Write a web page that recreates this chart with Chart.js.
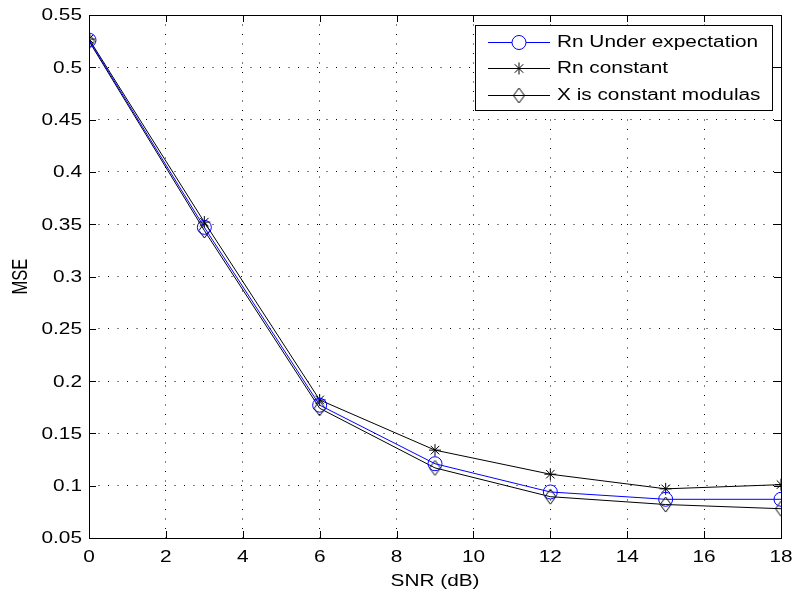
<!DOCTYPE html>
<html>
<head>
<meta charset="utf-8">
<style>
  html, body { margin: 0; padding: 0; background: #fff; }
  #chart { display: block; }
</style>
<script src="https://cdn.jsdelivr.net/npm/chart.js@4/dist/chart.umd.min.js"></script>
</head>
<body>
<canvas id="chart" width="797" height="599"></canvas>
<script>
// ========================
// DATA
// ========================
const snr = [0, 3, 6, 9, 12, 15, 18];
const rnUnderExpectation = [0.526, 0.347, 0.177, 0.121, 0.094, 0.087, 0.087];
const rnConstant = [0.527, 0.352, 0.182, 0.134, 0.111, 0.097, 0.101];
const xConstantModulus = [0.525, 0.344, 0.174, 0.117, 0.0895, 0.082, 0.078];
const seriesNames = ['Rn Under expectation', 'Rn constant', 'X is constant modulas'];
const xTicks = [0, 2, 4, 6, 8, 10, 12, 14, 16, 18];
const yTicks = [0.05, 0.1, 0.15, 0.2, 0.25, 0.3, 0.35, 0.4, 0.45, 0.5, 0.55];

const FONT = 'Liberation Sans, Arial, sans-serif';
const STRETCH = 1.3; // the original figure's text is widened horizontally

// MATLAB style diamond marker (a bit taller than wide)
function diamondMarker(w, h) {
    const c = document.createElement('canvas');
    c.width = w + 2; c.height = h + 2;
    const g = c.getContext('2d');
    g.strokeStyle = '#000';
    g.lineWidth = 1;
    g.beginPath();
    g.moveTo(c.width / 2, 1);
    g.lineTo(c.width - 1, c.height / 2);
    g.lineTo(c.width / 2, c.height - 1);
    g.lineTo(1, c.height / 2);
    g.closePath();
    g.stroke();
    return c;
}
const diamond = diamondMarker(11, 15);

const toPoints = ys => ys.map((y, i) => ({ x: snr[i], y: y }));

// text widened like the reference
function wideText(ctx, text, x, y, align, rotated) {
    ctx.save();
    ctx.translate(x, y);
    if (rotated) {
        ctx.rotate(-Math.PI / 2);
        ctx.scale(1, STRETCH);
    } else {
        ctx.scale(STRETCH, 1);
    }
    ctx.textAlign = align;
    ctx.textBaseline = 'middle';
    ctx.fillText(text, 0, 0);
    ctx.restore();
}

// ========================
// PLUGINS
// ========================
const matlabFrame = {
    id: 'matlabFrame',
    afterDraw(chart) {
        const ctx = chart.ctx;
        const a = chart.chartArea;
        const xs = chart.scales.x, ys = chart.scales.y;
        ctx.save();
        ctx.strokeStyle = '#000';
        ctx.lineWidth = 1;
        // inward ticks
        ctx.beginPath();
        xs.ticks.forEach(t => {
            const px = Math.round(xs.getPixelForValue(t.value)) + 0.5;
            ctx.moveTo(px, a.bottom); ctx.lineTo(px, a.bottom - 7);
            ctx.moveTo(px, a.top); ctx.lineTo(px, a.top + 7);
        });
        ys.ticks.forEach(t => {
            const py = Math.round(ys.getPixelForValue(t.value)) + 0.5;
            ctx.moveTo(a.left, py); ctx.lineTo(a.left + 7, py);
            ctx.moveTo(a.right, py); ctx.lineTo(a.right - 7, py);
        });
        ctx.stroke();
        // box
        ctx.strokeRect(Math.round(a.left) + 0.5, Math.round(a.top) + 0.5,
            Math.round(a.right - a.left), Math.round(a.bottom - a.top));

        // tick labels
        ctx.fillStyle = '#000';
        ctx.font = '16px ' + FONT;
        xs.ticks.forEach(t => {
            wideText(ctx, String(t.value), xs.getPixelForValue(t.value), 557.5, 'center');
        });
        ys.ticks.forEach(t => {
            wideText(ctx, String(Number(t.value.toFixed(2))), a.left - 7, ys.getPixelForValue(t.value) + 1, 'right');
        });

        // axis titles
        wideText(ctx, 'SNR (dB)', (a.left + a.right) / 2, 582, 'center');
        ctx.font = '16.5px ' + FONT;
        wideText(ctx, 'MSE', 21, (a.top + a.bottom) / 2, 'center', true);

        // legend
        ctx.font = '16px ' + FONT;
        const box = { x: 475.5, y: 25.5, w: 297, h: 85 };
        ctx.fillStyle = '#fff';
        ctx.fillRect(box.x, box.y, box.w, box.h);
        ctx.strokeRect(box.x, box.y, box.w, box.h);
        const rows = [42, 68, 95];
        chart.data.datasets.forEach((ds, i) => {
            const y = rows[i] + 0.5;
            ctx.strokeStyle = ds.borderColor;
            ctx.beginPath();
            ctx.moveTo(488, y); ctx.lineTo(550, y);
            ctx.stroke();
            Chart.helpers.drawPoint(ctx, {
                pointStyle: ds.pointStyle,
                radius: ds.pointRadius,
                borderWidth: 1
            }, 519, y);
            ctx.fillStyle = '#000';
            wideText(ctx, seriesNames[i], 557, rows[i] + 1, 'left');
        });
        ctx.restore();
    }
};

// ========================
// CHART
// ========================
const ctx = document.getElementById('chart');
new Chart(ctx, {
    type: 'line',
    data: {
        datasets: [
            {
                label: seriesNames[0],
                data: toPoints(rnUnderExpectation),
                borderColor: '#0000ff',
                backgroundColor: 'transparent',
                borderWidth: 1,
                pointStyle: 'circle',
                pointRadius: 7,
                pointBorderColor: '#0000ff',
                pointBackgroundColor: 'transparent',
                pointBorderWidth: 1
            },
            {
                label: seriesNames[1],
                data: toPoints(rnConstant),
                borderColor: '#000',
                backgroundColor: 'transparent',
                borderWidth: 1,
                pointStyle: 'star',
                pointRadius: 6,
                pointBorderColor: '#000',
                pointBorderWidth: 1
            },
            {
                label: seriesNames[2],
                data: toPoints(xConstantModulus),
                borderColor: '#000',
                backgroundColor: 'transparent',
                borderWidth: 1,
                pointStyle: diamond,
                pointRadius: 7,
                pointBorderColor: '#000',
                pointBorderWidth: 1
            }
        ]
    },
    options: {
        responsive: false,
        animation: false,
        events: [],
        layout: { padding: { left: 0, right: 16, top: 15, bottom: 0 } },
        plugins: {
            legend: { display: false },
            tooltip: { enabled: false }
        },
        scales: {
            x: {
                type: 'linear',
                min: 0,
                max: 18,
                afterBuildTicks: s => { s.ticks = xTicks.map(v => ({ value: v })); },
                afterFit: s => { s.height = 61; },
                grid: { color: '#000', lineWidth: 1, drawTicks: false },
                border: { display: false, dash: [1, 8.5] },
                ticks: { display: false }
            },
            y: {
                type: 'linear',
                min: 0.05,
                max: 0.55,
                afterBuildTicks: s => { s.ticks = yTicks.map(v => ({ value: v })); },
                afterFit: s => { s.width = 89; },
                grid: { color: '#000', lineWidth: 1, drawTicks: false },
                border: { display: false, dash: [1, 8.5] },
                ticks: { display: false }
            }
        }
    },
    plugins: [matlabFrame]
});
</script>
</body>
</html>
